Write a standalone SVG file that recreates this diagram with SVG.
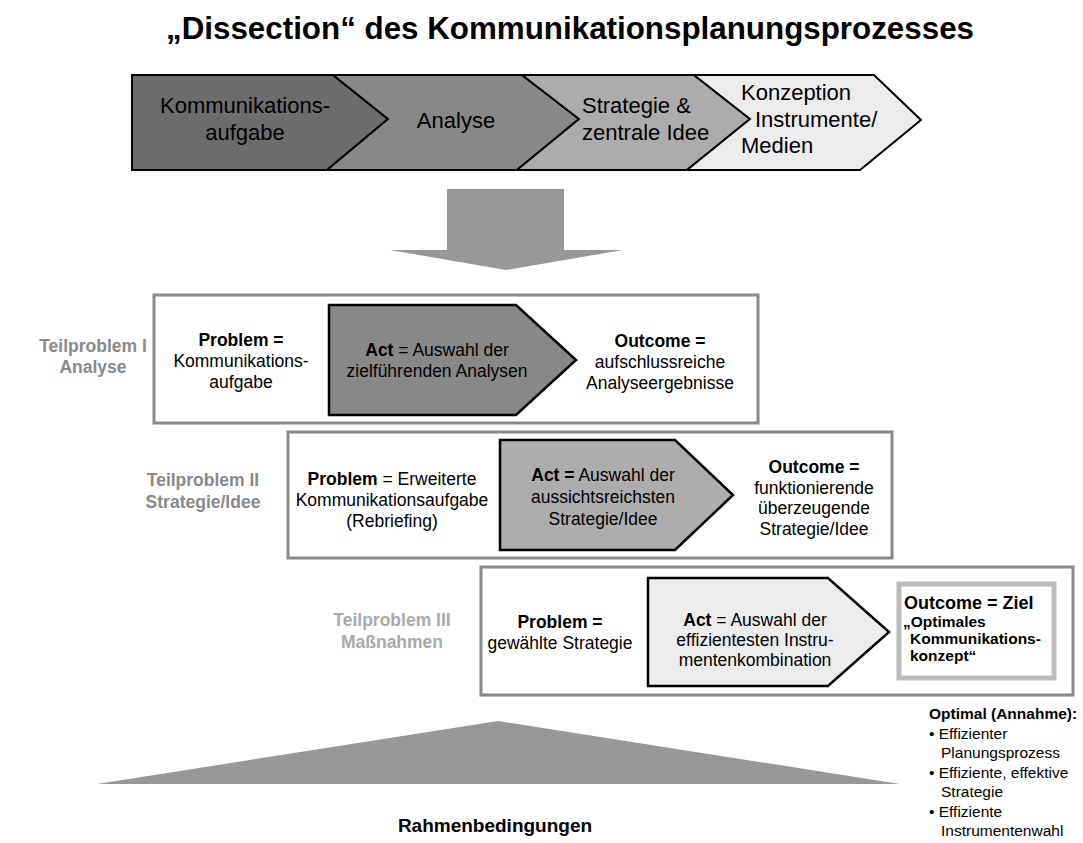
<svg xmlns="http://www.w3.org/2000/svg" width="1083" height="843" viewBox="0 0 1083 843">
<style>
text{font-family:"Liberation Sans",Arial,sans-serif;fill:#000}
.title{font-size:31px;font-weight:bold}
.phase{font-size:22px}
.body{font-size:17.5px;text-anchor:middle}
.b{font-weight:bold}
.tp{font-size:17.5px;font-weight:bold;text-anchor:middle}
.frame{fill:#fff;stroke:#8a8a8a;stroke-width:3}
.act{stroke:#000;stroke-width:2.5;stroke-linejoin:miter}
.chev{stroke:#000;stroke-width:2;stroke-linejoin:miter}
.note{font-size:15.5px}
.big{fill:#989898}
</style>

<rect width="1083" height="843" fill="#fff"/>

<text x="570" y="39" text-anchor="middle" class="title" textLength="808" lengthAdjust="spacingAndGlyphs">„Dissection“ des Kommunikationsplanungsprozesses</text>

<!-- process chevrons -->
<g id="phase-aufgabe">
  <polygon class="chev" fill="#6c6c6c" points="132,75 333,75 388,119 327,170 132,170"/>
  <text class="phase" x="245" y="113" text-anchor="middle">Kommunikations-</text>
  <text class="phase" x="245" y="140" text-anchor="middle">aufgabe</text>
</g>
<g id="phase-analyse">
  <polygon class="chev" fill="#888888" points="333,75 522,75 579,119 517,170 327,170 388,119"/>
  <text class="phase" x="456" y="128" text-anchor="middle">Analyse</text>
</g>
<g id="phase-strategie">
  <polygon class="chev" fill="#acacac" points="522,75 694,75 750,119 687,170 517,170 579,119"/>
  <text class="phase" x="582" y="113">Strategie &amp;</text>
  <text class="phase" x="582" y="140">zentrale Idee</text>
</g>
<g id="phase-konzeption">
  <polygon class="chev" fill="#ececec" points="694,75 874,75 921,120 860,170 687,170 750,119"/>
  <text class="phase" x="741" y="100">Konzeption</text>
  <text class="phase" x="755" y="127">Instrumente/</text>
  <text class="phase" x="741" y="153">Medien</text>
</g>

<g id="connectors">
  <polygon class="big" points="447,189 564,189 564,250 623,250 506,270 390,250 447,250"/>
</g>

<!-- Teilproblem I -->
<g id="teilproblem-1">
  <text class="tp" style="fill:#8a8a8a" x="93" y="352">Teilproblem I</text>
  <text class="tp" style="fill:#8a8a8a" x="93" y="373">Analyse</text>
  <rect class="frame" x="154" y="295" width="604" height="128"/>
  <text class="body" x="241" y="346"><tspan class="b">Problem =</tspan></text>
  <text class="body" x="241" y="367">Kommunikations-</text>
  <text class="body" x="241" y="388">aufgabe</text>
  <polygon class="act" fill="#888888" points="329,305 516,305 576,360 516,415 329,415"/>
  <text class="body" x="437" y="356"><tspan class="b">Act</tspan> = Auswahl der</text>
  <text class="body" x="437" y="377">zielführenden Analysen</text>
  <text class="body" x="660" y="347"><tspan class="b">Outcome =</tspan></text>
  <text class="body" x="660" y="368">aufschlussreiche</text>
  <text class="body" x="660" y="389">Analyseergebnisse</text>
</g>

<!-- Teilproblem II -->
<g id="teilproblem-2">
  <text class="tp" style="fill:#8a8a8a" x="203" y="486">Teilproblem II</text>
  <text class="tp" style="fill:#8a8a8a" x="203" y="508">Strategie/Idee</text>
  <rect class="frame" x="288" y="432" width="604" height="126"/>
  <text class="body" x="392" y="485"><tspan class="b">Problem</tspan> = Erweiterte</text>
  <text class="body" x="392" y="506">Kommunikationsaufgabe</text>
  <text class="body" x="392" y="527">(Rebriefing)</text>
  <polygon class="act" fill="#adadad" points="500,440 675,440 733,495 675,550 500,550"/>
  <text class="body" x="603" y="481"><tspan class="b">Act =</tspan> Auswahl der</text>
  <text class="body" x="603" y="503">aussichtsreichsten</text>
  <text class="body" x="603" y="525">Strategie/Idee</text>
  <text class="body" x="814" y="473"><tspan class="b">Outcome =</tspan></text>
  <text class="body" x="814" y="494">funktionierende</text>
  <text class="body" x="814" y="514">überzeugende</text>
  <text class="body" x="814" y="535">Strategie/Idee</text>
</g>

<!-- Teilproblem III -->
<g id="teilproblem-3">
  <text class="tp" style="fill:#aaaaaa" x="392" y="626">Teilproblem III</text>
  <text class="tp" style="fill:#aaaaaa" x="392" y="648">Maßnahmen</text>
  <rect class="frame" x="481" y="567" width="592" height="128"/>
  <text class="body" x="560" y="628"><tspan class="b">Problem =</tspan></text>
  <text class="body" x="560" y="649">gewählte Strategie</text>
  <polygon class="act" fill="#ececec" points="648,578 828,578 889,632 828,686 648,686"/>
  <text class="body" x="755" y="626"><tspan class="b">Act</tspan> = Auswahl der</text>
  <text class="body" x="755" y="646">effizientesten Instru-</text>
  <text class="body" x="755" y="666">mentenkombination</text>
  <g id="ziel">
    <rect x="899" y="584" width="155" height="94" fill="#fff" stroke="#bcbcbc" stroke-width="5"/>
    <text x="904" y="609" class="b" style="font-size:18px">Outcome = Ziel</text>
    <text x="903" y="627" class="b" style="font-size:15.5px">„Optimales</text>
    <text x="910" y="644" class="b" style="font-size:15.5px">Kommunikations-</text>
    <text x="910" y="661" class="b" style="font-size:15.5px">konzept“</text>
  </g>
</g>

<!-- framework conditions -->
<g id="rahmen">
  <polygon class="big" points="97,784 498,721 900,784"/>
  <text x="495" y="832" text-anchor="middle" class="b" style="font-size:19px">Rahmenbedingungen</text>
</g>

<g id="annahme">
  <text x="929" y="719" class="b note">Optimal (Annahme):</text>
  <text x="929" y="739" class="note">• Effizienter</text>
  <text x="941" y="758" class="note">Planungsprozess</text>
  <text x="929" y="778" class="note">• Effiziente, effektive</text>
  <text x="941" y="797" class="note">Strategie</text>
  <text x="929" y="817" class="note">• Effiziente</text>
  <text x="941" y="836" class="note">Instrumentenwahl</text>
</g>
</svg>
